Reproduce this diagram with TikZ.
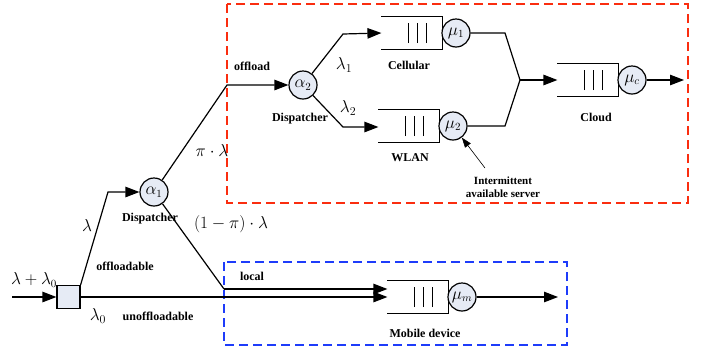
\documentclass[tikz,border=0pt]{standalone}
\usepackage{fontspec}
\setmainfont{Liberation Serif}
\usetikzlibrary{arrows.meta}
\definecolor{srvfill}{RGB}{230,235,245}
\definecolor{redbox}{RGB}{250,45,15}
\definecolor{bluebox}{RGB}{30,60,250}
\newcommand{\myqueue}[3]{%
  \node[qbox] (#1) at (#2,#3) {};
  \draw (#1.north west) -- (#1.north east) -- (#1.south east) -- (#1.south west);
  \foreach \dx in {27,36,45} {\draw ([xshift=\dx pt,yshift=-10pt]#1.west) -- ([xshift=\dx pt,yshift=10pt]#1.west);}
}
\begin{document}
\begin{tikzpicture}[x=1pt,y=-1pt,line width=1.2pt,
  arr/.style={-{Triangle[length=14pt,width=10.5pt]}},
  thinarr/.style={line width=0.6pt,-{Triangle[length=10pt,width=7pt]}},
  srv/.style={circle,draw,fill=srvfill,minimum size=28pt,inner sep=0pt,font=\fontsize{16}{18}\selectfont},
  qbox/.style={minimum width=60pt,minimum height=32pt,inner sep=0pt,draw=none},
  lbl/.style={font=\bfseries\fontsize{12}{14}\selectfont,inner sep=0pt},
  mlbl/.style={font=\fontsize{17}{20}\selectfont,inner sep=0pt}]
\useasboundingbox (0,0) rectangle (703,349);

% boxes
\draw[redbox,dash pattern=on 9pt off 5pt,line width=1.3pt] (227,4) rectangle (688,203);
\draw[bluebox,dash pattern=on 9pt off 5pt,line width=1.3pt] (224,262) rectangle (567,345);

% splitter
\node[draw,fill=srvfill,minimum size=23pt,inner sep=0pt] (sq) at (68.5,297) {};
\coordinate (in) at (12,297);
\draw[arr] (in) -- (sq.west);

% dispatcher 1
\node[srv] (a1) at (154,192) {$\alpha_1$};
\draw[arr] (sq.north east) -- (108,192) -- (a1.west);

% dispatcher 2
\node[srv] (a2) at (303,85) {$\alpha_2$};
\draw[arr] (a1) -- (227,85) -- (a2.west);

% queues
\myqueue{q1}{412}{33}
\node[srv] (mu1) at (456,33) {$\mu_1$};
\myqueue{q2}{409}{126}
\node[srv] (mu2) at (453,126) {$\mu_2$};
\myqueue{qc}{588}{80}
\node[srv] (muc) at (632,80) {$\mu_c$};
\myqueue{qm}{418}{297}
\node[srv] (mum) at (462,297) {$\mu_m$};

\draw[arr] (a2) -- (343,34) -- (q1.west);
\draw[arr] (a2) -- (343,127) -- (q2.west |- 0,127);

\coordinate (m) at (520,80);
\draw (mu1.east) -- (505,33) -- (m);
\draw (mu2.east) -- (505,126) -- (m);
\draw[arr] (m) -- (qc.west);
\coordinate (outc) at (684,80);
\draw[arr] (muc.east) -- (outc);

% local
\draw (a1) -- (224,289);
\draw[arr] (224,289) -- (qm.west |- 0,289);
\draw[arr] (sq.east) -- (qm.west);
\coordinate (outm) at (558,297);
\draw[arr] (mum.east) -- (outm);

% annotation
\coordinate (ann) at (485,168);
\draw[thinarr] (ann) -- (mu2);
\node[lbl,align=center,font=\bfseries\fontsize{11}{13}\selectfont] (annt) at (503,187) {Intermittent\\available server};

% labels
\node[mlbl,font=\fontsize{16}{19}\selectfont] (l0) at (34,280) {$\lambda+\lambda_0$};
\node[mlbl] (l1) at (87,225) {$\lambda$};
\node[lbl] (t1) at (125,266) {offloadable};
\node[lbl] (t2) at (150,219) {Dispatcher};
\node[mlbl] (l2) at (98,316) {$\lambda_0$};
\node[lbl] (t3) at (158,316) {unoffloadable};
\node[mlbl] (l3) at (231,224) {$(1-\pi)\cdot\lambda$};
\node[mlbl] (l4) at (212,150) {$\pi\cdot\lambda$};
\node[lbl] (t4) at (252,66) {offload};
\node[lbl] (t5) at (300,119) {Dispatcher};
\node[mlbl] (l5) at (344,65) {$\lambda_1$};
\node[mlbl] (l6) at (348,108) {$\lambda_2$};
\node[lbl] (t6) at (409,65) {Cellular};
\node[lbl] (t7) at (410,158) {WLAN};
\node[lbl] (t8) at (596,117) {Cloud};
\node[lbl] (t9) at (252,276) {local};
\node[lbl] (t10) at (425,333) {Mobile device};
\end{tikzpicture}
\end{document}
